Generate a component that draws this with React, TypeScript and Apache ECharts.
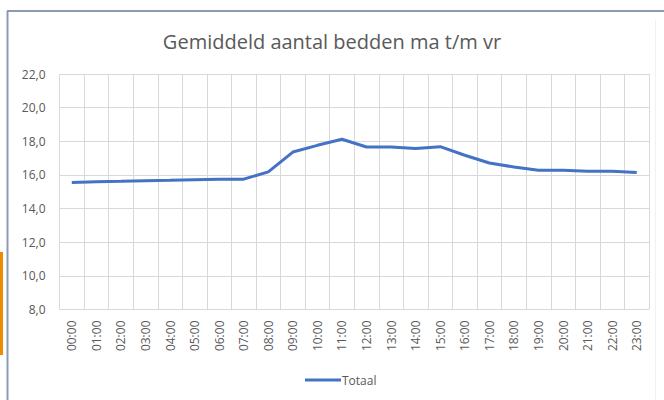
import React, { useEffect, useRef } from "react";
import * as echarts from "echarts";

const hours = [
  "00:00", "01:00", "02:00", "03:00", "04:00", "05:00", "06:00", "07:00",
  "08:00", "09:00", "10:00", "11:00", "12:00", "13:00", "14:00", "15:00",
  "16:00", "17:00", "18:00", "19:00", "20:00", "21:00", "22:00", "23:00",
];
const totaal = [
  15.55, 15.6, 15.62, 15.66, 15.68, 15.72, 15.74, 15.75,
  16.18, 17.36, 17.76, 18.12, 17.66, 17.66, 17.57, 17.68,
  17.17, 16.71, 16.47, 16.28, 16.28, 16.22, 16.22, 16.14,
];
const title = "Gemiddeld aantal bedden ma t/m vr";
const seriesName = "Totaal";

export default function App() {
  const ref = useRef<HTMLDivElement>(null);
  useEffect(() => {
    if (!ref.current) return;
    const chart = echarts.init(ref.current, null, { renderer: "svg" });
    const font = "'Open Sans', sans-serif";
    chart.setOption({
      animation: false,
      backgroundColor: "#ffffff",
      textStyle: { fontFamily: font },
      title: {
        text: title,
        left: "center",
        top: 26,
        textStyle: { fontFamily: font, fontSize: 20, fontWeight: "normal", color: "#595959" },
      },
      graphic: [
        { type: "line", shape: { x1: 7.5, y1: 11, x2: 7.5, y2: 400 }, style: { stroke: "#8a9bb3", lineWidth: 2 } },
        { type: "line", shape: { x1: 7, y1: 11, x2: 664, y2: 11 }, style: { stroke: "#8a9bb3", lineWidth: 2 } },
        { type: "line", shape: { x1: 655.5, y1: 20, x2: 655.5, y2: 400 }, style: { stroke: "#eef1f6", lineWidth: 1 } },
        { type: "rect", shape: { x: 0, y: 252, width: 3, height: 103 }, style: { fill: "#f08a00" } },
      ],
      legend: {
        data: [seriesName],
        bottom: 9,
        left: 300,
        itemWidth: 36,
        itemHeight: 3,
        itemGap: 2,
        icon: "rect",
        textStyle: { fontFamily: font, fontSize: 12, color: "#595959", padding: [0, 0, 0, -4] },
      },
      grid: { left: 59.5, right: 15, top: 74, bottom: 90.5, containLabel: false },
      xAxis: {
        type: "category",
        data: hours,
        boundaryGap: true,
        axisLine: { show: true, lineStyle: { color: "#d9d9d9" } },
        axisTick: { show: false },
        splitLine: { show: true, interval: 0, lineStyle: { color: "#d9d9d9" } },
        axisLabel: { rotate: 90, interval: 0, margin: 11, fontSize: 12, color: "#595959", fontFamily: font },
      },
      yAxis: {
        type: "value",
        min: 8,
        max: 22,
        interval: 2,
        axisLine: { show: false },
        axisTick: { show: false },
        splitLine: { show: true, lineStyle: { color: "#d9d9d9" } },
        axisLabel: {
          margin: 14,
          fontSize: 12,
          color: "#595959",
          fontFamily: font,
          formatter: (v: number) => v.toFixed(1).replace(".", ","),
        },
      },
      series: [
        {
          name: seriesName,
          type: "line",
          data: totaal,
          symbol: "none",
          lineStyle: { color: "#4472c4", width: 3 },
          itemStyle: { color: "#4472c4" },
        },
      ],
    });
    return () => chart.dispose();
  }, []);
  return <div ref={ref} style={{ position: "absolute", left: 0, top: 0, width: 664, height: 400 }} />;
}
